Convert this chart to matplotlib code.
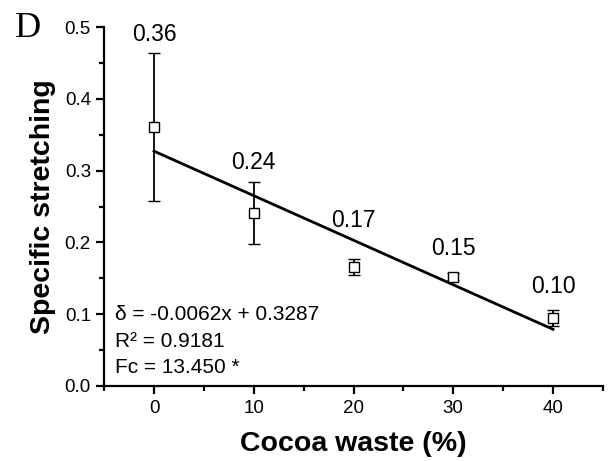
import numpy as np
import matplotlib
matplotlib.use("Agg")
import matplotlib.pyplot as plt
from matplotlib.ticker import MultipleLocator

# Data
cocoa_waste = [0, 10, 20, 30, 40]
stretching = [0.361, 0.241, 0.166, 0.152, 0.095]
stretching_err = [0.103, 0.043, 0.011, 0.005, 0.011]
value_labels = ["0.36", "0.24", "0.17", "0.15", "0.10"]
equation_lines = ["\u03b4 = -0.0062x + 0.3287", "R\u00b2 = 0.9181", "Fc = 13.450 *"]

# label offsets in points above the top of each error bar (to label centre)
label_offsets = [13, 14.5, 28, 18, 17]
# vertical positions (axes fraction) of the equation lines
equation_y = [0.200, 0.123, 0.050]

plt.rcParams['font.family'] = ['Liberation Sans', 'DejaVu Sans']

fig = plt.figure(figsize=(6.09, 4.61), dpi=100)
ax = fig.add_axes([0.171, 0.163, 0.819, 0.778])

x = np.array(cocoa_waste, dtype=float)
y = np.array(stretching)
e = np.array(stretching_err)

slope, intercept = np.polyfit(x, y, 1)
xs = np.array([x.min(), x.max()])
ax.plot(xs, slope * xs + intercept, color='black', lw=2.0, zorder=2)

ax.errorbar(x, y, yerr=e, fmt='s', color='black', ecolor='black',
            elinewidth=1.3, capsize=4, capthick=1.3,
            markerfacecolor='white', markeredgecolor='black',
            markersize=7.5, markeredgewidth=1.0, zorder=3)

for xi, yi, ei, lab, off in zip(x, y, e, value_labels, label_offsets):
    ax.annotate(lab, (xi, yi + ei), xytext=(0, off), textcoords='offset points',
                ha='center', va='center', fontsize=16.5)

for line, ly in zip(equation_lines, equation_y):
    ax.text(0.022, ly, line, transform=ax.transAxes,
            ha='left', va='center', fontsize=15)

ax.set_xlim(-5, 45)
ax.set_ylim(0, 0.5)
ax.xaxis.set_major_locator(MultipleLocator(10))
ax.xaxis.set_minor_locator(MultipleLocator(5))
ax.yaxis.set_major_locator(MultipleLocator(0.1))
ax.yaxis.set_minor_locator(MultipleLocator(0.05))
ax.yaxis.set_major_formatter(matplotlib.ticker.FormatStrFormatter('%.1f'))

for s in ['top', 'right']:
    ax.spines[s].set_visible(False)
for s in ['left', 'bottom']:
    ax.spines[s].set_linewidth(1.6)

ax.tick_params(which='major', direction='out', length=5.5, width=1.6, labelsize=13.5)
ax.tick_params(which='minor', direction='out', length=3.5, width=1.6)
ax.tick_params(axis='x', pad=5)
ax.tick_params(axis='y', pad=4)

ax.set_xlabel("Cocoa waste (%)", fontsize=20.5, fontweight='bold', labelpad=10)
ax.set_ylabel("Specific stretching", fontsize=20.5, fontweight='bold', labelpad=6)

fig.text(0.025, 0.975, "D", family=['Liberation Serif'], fontsize=26,
         ha='left', va='top')

fig.savefig("out.png", dpi=100)
